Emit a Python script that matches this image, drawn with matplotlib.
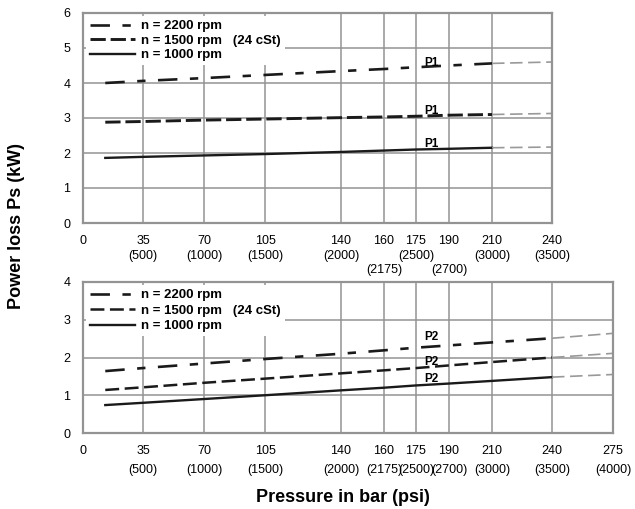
import numpy as np
import matplotlib
matplotlib.use('Agg')
import matplotlib.pyplot as plt

plt.rcParams['font.family'] = ['Liberation Sans', 'DejaVu Sans']
plt.rcParams['lines.scale_dashes'] = False

# pressure axis is not linear in the original drawing: tick value -> spacing
bar_ticks = [0, 35, 70, 105, 140, 160, 175, 190, 210, 240, 275]
tick_spacing = [0, 60, 121, 182, 258, 301, 333, 366, 409, 469, 530]
psi_labels = ['', '(500)', '(1000)', '(1500)', '(2000)', '(2175)', '(2500)', '(2700)', '(3000)', '(3500)', '(4000)']

# P1 (top)
p1_x = [13, 35, 70, 105, 140, 160, 175, 190, 210]
p1_2200 = [4.00, 4.06, 4.14, 4.23, 4.34, 4.40, 4.45, 4.50, 4.56]
p1_1500 = [2.88, 2.90, 2.94, 2.97, 3.01, 3.03, 3.05, 3.08, 3.10]
p1_1000 = [1.86, 1.89, 1.93, 1.97, 2.03, 2.07, 2.10, 2.12, 2.15]
p1_ext_x = [210, 240]
p1_ext = [[4.56, 4.60], [3.10, 3.13], [2.15, 2.17]]

# P2 (bottom)
p2_x = [13, 35, 70, 105, 140, 160, 175, 190, 210, 240]
p2_2200 = [1.64, 1.72, 1.84, 1.96, 2.10, 2.19, 2.26, 2.32, 2.40, 2.51]
p2_1500 = [1.14, 1.21, 1.33, 1.44, 1.58, 1.66, 1.72, 1.79, 1.88, 2.00]
p2_1000 = [0.74, 0.80, 0.90, 1.00, 1.13, 1.20, 1.26, 1.31, 1.38, 1.48]
p2_ext_x = [240, 275]
p2_ext = [[2.51, 2.64], [2.00, 2.11], [1.48, 1.55]]

labels = ['n = 2200 rpm', 'n = 1500 rpm   (24 cSt)', 'n = 1000 rpm']


def fwd(x):
    x = np.asarray(x, dtype=float)
    return np.interp(x, bar_ticks, tick_spacing)


def inv(y):
    y = np.asarray(y, dtype=float)
    return np.interp(y, tick_spacing, bar_ticks)


grid_c = '#939393'
fig = plt.figure(figsize=(6.35, 5.09), dpi=100)
ax1 = fig.add_axes([83/635, 1-223/509, (552-83)/635, 210/509])
ax2 = fig.add_axes([83/635, 1-433/509, (613-83)/635, 151/509])


def style(ax, xmax, ymax, xt, xl, lsp):
    ax.set_xscale('function', functions=(fwd, inv))
    ax.set_xlim(0, xmax)
    ax.set_ylim(0, ymax)
    ax.set_xticks(xt)
    ax.set_xticklabels(xl, linespacing=lsp)
    ax.set_yticks(range(ymax+1))
    ax.tick_params(length=0, labelsize=9, pad=8.5)
    ax.tick_params(axis='y', pad=9)
    ax.grid(True, color=grid_c, lw=1.1)
    ax.set_axisbelow(True)
    for s in ax.spines.values():
        s.set_color(grid_c)
        s.set_linewidth(1.6)


top_ticks = bar_ticks[:10]
top_labels = []
for b, p in zip(top_ticks, psi_labels):
    if b == 0:
        top_labels.append('0')
    elif b in (160, 190):
        top_labels.append(str(b) + '\n\n' + p)
    else:
        top_labels.append(str(b) + '\n' + p)
style(ax1, 240, 6, top_ticks, top_labels, 1.3)

bot_labels = ['0' if b == 0 else str(b) + '\n' + p for b, p in zip(bar_ticks, psi_labels)]
style(ax2, 275, 4, bar_ticks, bot_labels, 1.75)

ax1.plot(p1_x, p1_2200, color='#1a1a1a', lw=1.9, dashes=(14, 9, 6, 9), label=labels[0])
ax1.plot(p1_x, p1_1500, color='#1a1a1a', lw=2.1, dashes=(11, 3.5), label=labels[1])
ax1.plot(p1_x, p1_1000, color='#1a1a1a', lw=1.7, label=labels[2])
for e in p1_ext:
    ax1.plot(p1_ext_x, e, color='#999999', lw=1.2, dashes=(9, 4))

ax2.plot(p2_x, p2_2200, color='#1a1a1a', lw=1.9, dashes=(14, 9, 6, 9), label=labels[0])
ax2.plot(p2_x, p2_1500, color='#1a1a1a', lw=1.8, dashes=(10, 4), label=labels[1])
ax2.plot(p2_x, p2_1000, color='#1a1a1a', lw=1.7, label=labels[2])
for e in p2_ext:
    ax2.plot(p2_ext_x, e, color='#999999', lw=1.2, dashes=(9, 4))

for ax, ls in ((ax1, 0.17), (ax2, 0.24)):
    leg = ax.legend(loc='upper left', bbox_to_anchor=(0, 1), borderaxespad=0.25,
                    prop={'weight': 'bold', 'size': 9.5}, handlelength=3.4,
                    handletextpad=0.45, labelspacing=ls, borderpad=0.3,
                    fancybox=False, framealpha=1, facecolor='white', edgecolor='none')

for y in [4.57, 3.2, 2.26]:
    ax1.text(182, y, 'P1', ha='center', va='center', fontsize=8.5, fontweight='bold')
for y in [2.54, 1.88, 1.43]:
    ax2.text(182, y, 'P2', ha='center', va='center', fontsize=8.5, fontweight='bold')

fig.text(17/635, 1-226/509, 'Power loss Ps (kW)', rotation=90, ha='center', va='center',
         fontsize=13, fontweight='bold')
fig.text(343/635, 1-497/509, 'Pressure in bar (psi)', ha='center', va='center',
         fontsize=13, fontweight='bold')

fig.savefig('out.png', dpi=100)
